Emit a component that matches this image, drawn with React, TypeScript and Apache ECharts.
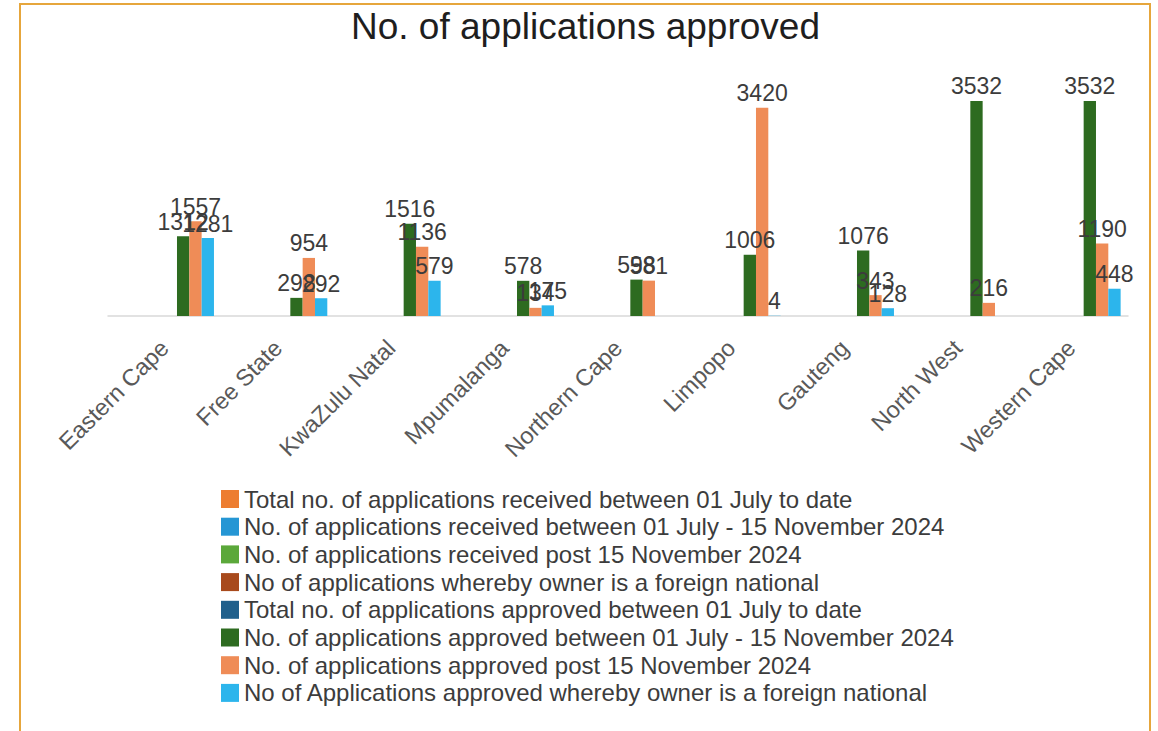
import React, { useEffect, useRef } from "react";
import * as echarts from "echarts";

const categories = [
  "Eastern Cape",
  "Free State",
  "KwaZulu Natal",
  "Mpumalanga",
  "Northern Cape",
  "Limpopo",
  "Gauteng",
  "North West",
  "Western Cape",
];

const seriesNames = [
  "Total no. of applications received between 01 July to date",
  "No. of applications received between 01 July - 15 November 2024",
  "No. of applications received post 15 November 2024",
  "No of applications whereby owner is a foreign national",
  "Total no. of applications approved between 01 July to date",
  "No. of applications approved between 01 July - 15 November 2024",
  "No. of applications approved post 15 November 2024",
  "No of Applications approved whereby owner is a foreign national",
];

const seriesColors = [
  "#ED7D31",
  "#2596D4",
  "#5BA83A",
  "#A84A1C",
  "#1F5F8B",
  "#2D6B20",
  "#EF8C57",
  "#2CB5EC",
];

const emptyValues: (number | null)[] = [null, null, null, null, null, null, null, null, null];
const approvedJulyNov: (number | null)[] = [1312, 298, 1516, 578, 598, 1006, 1076, 3532, 3532];
const approvedPostNov: (number | null)[] = [1557, 954, 1136, 134, 581, 3420, 343, 216, 1190];
const approvedForeign: (number | null)[] = [1281, 292, 579, 175, null, 4, 128, null, 448];

const seriesValues = [
  emptyValues,
  emptyValues,
  emptyValues,
  emptyValues,
  emptyValues,
  approvedJulyNov,
  approvedPostNov,
  approvedForeign,
];

const FONT = "'Liberation Sans', Arial, sans-serif";

export default function App() {
  const ref = useRef<HTMLDivElement>(null);

  useEffect(() => {
    if (!ref.current) return;
    const chart = echarts.init(ref.current, undefined, { renderer: "svg" });
    chart.setOption({
      animation: false,
      backgroundColor: "#ffffff",
      textStyle: { fontFamily: FONT },
      title: {
        text: "No. of applications approved",
        left: 346,
        top: 3,
        textStyle: { fontSize: 37, fontWeight: "normal", color: "#1e1e1e", fontFamily: FONT },
      },
      graphic: [
        {
          type: "rect",
          shape: { x: 20, y: 4, width: 1130, height: 780 },
          style: { fill: "none", stroke: "#E6A63C", lineWidth: 2 },
          silent: true,
        },
      ],
      legend: {
        orient: "vertical",
        left: 216,
        top: 482,
        itemWidth: 18,
        itemHeight: 18,
        itemGap: 3.7,
        icon: "rect",
        data: seriesNames,
        textStyle: { fontSize: 24, color: "#3c3c3c", fontFamily: FONT, lineHeight: 24 },
      },
      grid: { left: 108, right: 30, top: 72.5, bottom: 415, containLabel: false },
      xAxis: {
        type: "category",
        data: categories,
        axisLine: { show: true, lineStyle: { color: "#d9d9d9", width: 1.5 } },
        axisTick: { show: false },
        axisLabel: {
          rotate: 45,
          interval: 0,
          margin: 28,
          fontSize: 23.5,
          color: "#595959",
          fontFamily: FONT,
        },
      },
      yAxis: {
        type: "value",
        min: 0,
        max: 4000,
        show: false,
        splitLine: { show: false },
      },
      series: seriesNames.map((name, i) => ({
        name,
        type: "bar",
        data: seriesValues[i],
        barGap: "0%",
        barCategoryGap: "13%",
        itemStyle: { color: seriesColors[i] },
        label: {
          show: true,
          position: "top",
          distance: 3,
          fontSize: 23,
          color: "#3c3c3c",
          fontFamily: FONT,
        },
      })),
    });
    return () => chart.dispose();
  }, []);

  return (
    <div
      ref={ref}
      style={{ position: "absolute", left: 0, top: 0, width: 1158, height: 731 }}
    />
  );
}
